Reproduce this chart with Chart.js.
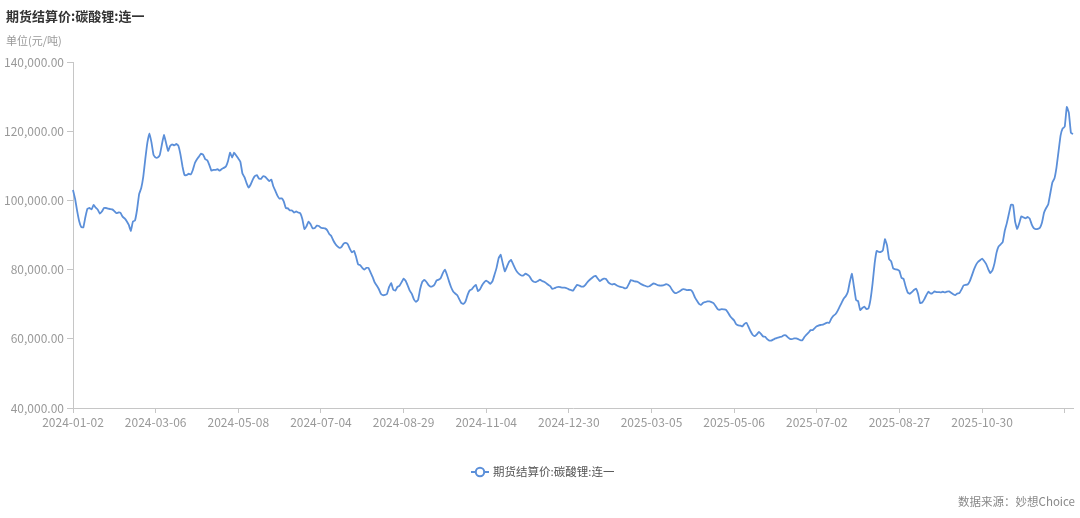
<!DOCTYPE html>
<html>
<head>
<meta charset="utf-8">
<script src="https://cdn.jsdelivr.net/npm/chart.js@4.4.1/dist/chart.umd.min.js"></script>
<style>
  html, body { margin: 0; padding: 0; background: #fff; }
  #wrap { position: relative; width: 1080px; height: 518px; overflow: hidden; font-family: "Noto Sans CJK SC", "Noto Sans", sans-serif; }
  #c { position: absolute; left: 0; top: 0; }
  .txt { position: absolute; white-space: nowrap; line-height: 1; }
  #title { left: 6px; top: 9px; font-size: 13px; font-weight: bold; color: #333; }
  #unit { left: 6px; top: 35px; font-size: 11px; color: #999; }
  #legend { left: 471px; top: 466px; font-size: 11.5px; color: #555; display: flex; align-items: center; }
  #legend svg { margin-right: 4px; }
  #source { right: 5px; top: 496px; font-size: 11.5px; color: #888; }
</style>
</head>
<body>
<div id="wrap">
  <canvas id="c" width="1080" height="518"></canvas>
  <div class="txt" id="title">期货结算价:碳酸锂:连一</div>
  <div class="txt" id="unit">单位(元/吨)</div>
  <div class="txt" id="legend"><svg width="18" height="12" viewBox="0 0 18 12"><line x1="0" y1="6" x2="18" y2="6" stroke="#5b8fd9" stroke-width="2"/><circle cx="9" cy="6" r="4.2" fill="#fff" stroke="#5b8fd9" stroke-width="2"/></svg><span id="legendText"></span></div>
  <div class="txt" id="source">数据来源：妙想Choice</div>
</div>
<script>
const seriesName = '期货结算价:碳酸锂:连一';
const startDate = '2024-01-02';
const endDate = '2025-12-31';
const holidays = [
  '2024-01-01','2024-02-09','2024-02-12','2024-02-13','2024-02-14','2024-02-15','2024-02-16',
  '2024-04-04','2024-04-05','2024-05-01','2024-05-02','2024-05-03','2024-06-10',
  '2024-09-16','2024-09-17','2024-10-01','2024-10-02','2024-10-03','2024-10-04','2024-10-07',
  '2025-01-01','2025-01-28','2025-01-29','2025-01-30','2025-01-31','2025-02-03','2025-02-04',
  '2025-04-04','2025-05-01','2025-05-02','2025-05-05','2025-06-02',
  '2025-10-01','2025-10-02','2025-10-03','2025-10-06','2025-10-07','2025-10-08'
];
const tickEvery = 40;
const yTicks = [40000, 60000, 80000, 100000, 120000, 140000];

const prices = [
103000,100500,97000,94000,92300,92200,95200,97600,97800,97400,
98700,97900,97300,96200,96800,97800,97800,97600,97500,97400,
96900,96300,96500,96400,95300,94800,94000,92900,91200,93900,
94200,97300,101800,103500,106800,112000,116700,119400,116700,113100,
112400,112400,113100,116100,118900,116700,114300,115700,116200,115900,
116300,115800,113300,109800,107300,107300,107700,107500,108800,110800,
111900,112700,113500,113200,111900,111600,110200,108600,108800,108800,
109000,108600,109100,109400,109800,111300,113800,112400,113800,113000,
112100,111200,107800,106700,105000,103700,104600,106000,107000,107300,
106300,106200,107000,106800,106200,105600,106000,104000,102700,101300,
100500,100600,99700,97800,97700,97100,97100,96500,96800,96500,
96300,94600,91700,92500,93900,93100,91900,92000,92700,92600,
92100,92000,91900,91400,90300,89700,88400,87400,86700,86300,
86600,87500,87700,87300,86000,85000,85400,83700,81500,81300,
80500,80000,80500,80500,79200,77900,76300,75400,74400,73000,
72600,72700,73000,75000,76100,74200,73900,75000,75300,76300,
77400,76800,75400,73900,73000,71400,70700,71200,74300,76400,
77000,76500,75600,75100,75200,75700,76900,77100,77600,79000,
80000,78500,76600,74900,73700,73100,72600,71400,70300,70100,
70800,72700,74000,74300,75100,75600,73800,74300,75500,76300,
76800,76400,75900,76600,78500,80500,83300,84300,81800,79500,
80800,82200,82800,81600,80300,79300,78700,78300,78300,78800,
78500,78000,77000,76500,76400,76700,77100,76700,76500,76100,
75600,75200,74400,74600,74900,75000,74900,74800,74800,74600,
74300,74100,73900,74800,75600,75400,75100,75100,75600,76400,
77000,77500,78000,78200,77400,76700,77100,77400,77300,76400,
75900,75700,75900,75500,75200,75000,74900,74600,74700,75800,
77000,76800,76600,76500,76200,75800,75500,75300,75100,75200,
75600,76000,75800,75500,75400,75400,75500,75800,75600,75100,
74100,73400,73200,73500,73900,74300,74300,74100,74100,74100,
73400,72000,71000,70100,69800,70400,70600,70800,70800,70600,
70300,69500,68600,68400,68600,68500,68400,67600,66600,65900,
65300,64200,63900,63800,63600,64300,64600,63400,62100,61100,
60800,61300,62000,61400,60700,60600,59900,59500,59500,59800,
60100,60300,60500,60600,61000,61000,60400,60000,59900,60100,
60100,59900,59600,59600,60500,61200,61800,62500,62500,63100,
63600,63900,64000,64100,64400,64700,64600,65800,66600,67100,
68000,69200,70400,71600,72300,73500,76500,78800,75000,71200,
70900,68300,68900,69300,68600,68800,71400,76000,81800,85400,
85100,85100,85600,88800,87000,83000,82400,80300,80100,80000,
79600,77600,77300,75100,73400,73000,73500,74100,74500,73000,
70300,70500,71400,72600,73600,73100,73200,73700,73500,73500,
73400,73600,73400,73600,73700,73300,72900,72600,73100,73200,
74200,75400,75600,75700,76600,78200,79900,81300,82200,82700,
83200,82500,81600,80100,79000,79800,81800,84900,86700,87300,
88000,91300,93500,96200,98800,98700,93800,91700,93400,95400,
95100,94800,95200,94800,93100,92000,91700,91800,92100,93600,
96500,97800,98800,102000,105200,106300,109500,114200,118800,120800,
121300,127000,125300,119500,119200
];

// trading calendar (weekdays excluding exchange holidays)
function pad(n){ return n < 10 ? '0' + n : '' + n; }
const dates = [];
(function(){
  const hs = new Set(holidays);
  const d = new Date(startDate + 'T00:00:00Z');
  const e = new Date(endDate + 'T00:00:00Z');
  while (d <= e) {
    const wd = d.getUTCDay();
    const s = d.getUTCFullYear() + '-' + pad(d.getUTCMonth() + 1) + '-' + pad(d.getUTCDate());
    if (wd !== 0 && wd !== 6 && !hs.has(s)) dates.push(s);
    d.setUTCDate(d.getUTCDate() + 1);
  }
})();
const labels = dates.slice(0, prices.length);
const lastLabeled = Math.floor((labels.length - 1 - 20) / tickEvery) * tickEvery;

document.getElementById('legendText').textContent = seriesName;

const fontFam = '"Noto Sans CJK SC", "Noto Sans", sans-serif';
const axisColor = '#c6c6c6';
const lineColor = '#5b8fd9';

new Chart(document.getElementById('c'), {
  type: 'line',
  data: {
    labels: labels,
    datasets: [{
      label: seriesName,
      data: prices,
      borderColor: lineColor,
      backgroundColor: lineColor,
      borderWidth: 1.8,
      pointRadius: 0,
      pointHoverRadius: 0,
      tension: 0.1,
      fill: false
    }]
  },
  options: {
    responsive: false,
    animation: false,
    events: [],
    layout: { padding: { left: 0, right: 7, top: 62, bottom: 80 } },
    plugins: { legend: { display: false }, tooltip: { enabled: false } },
    scales: {
      x: {
        type: 'category',
        offset: false,
        afterBuildTicks: (scale) => {
          scale.ticks = scale.ticks.filter(t => t.value % tickEvery === 0);
        },
        afterFit: (scale) => { scale.height = 30; },
        ticks: {
          autoSkip: false,
          maxRotation: 0,
          minRotation: 0,
          padding: 2,
          color: '#999',
          font: { family: fontFam, size: 12 },
          callback: function(value) {
            return value <= lastLabeled ? this.getLabelForValue(value) : '';
          }
        },
        grid: { display: true, drawOnChartArea: false, drawTicks: true, tickLength: 5, color: axisColor },
        border: { display: true, color: axisColor, width: 1 }
      },
      y: {
        min: yTicks[0],
        max: yTicks[yTicks.length - 1],
        afterBuildTicks: (scale) => { scale.ticks = yTicks.map(v => ({ value: v })); },
        afterFit: (scale) => { scale.width = 73; },
        ticks: {
          padding: 3,
          color: '#999',
          font: { family: fontFam, size: 12 },
          callback: (v) => Number(v).toLocaleString('en-US', { minimumFractionDigits: 2, maximumFractionDigits: 2 })
        },
        grid: { display: true, drawOnChartArea: false, drawTicks: true, tickLength: 6, color: axisColor },
        border: { display: true, color: axisColor, width: 1 }
      }
    }
  }
});
</script>
</body>
</html>
